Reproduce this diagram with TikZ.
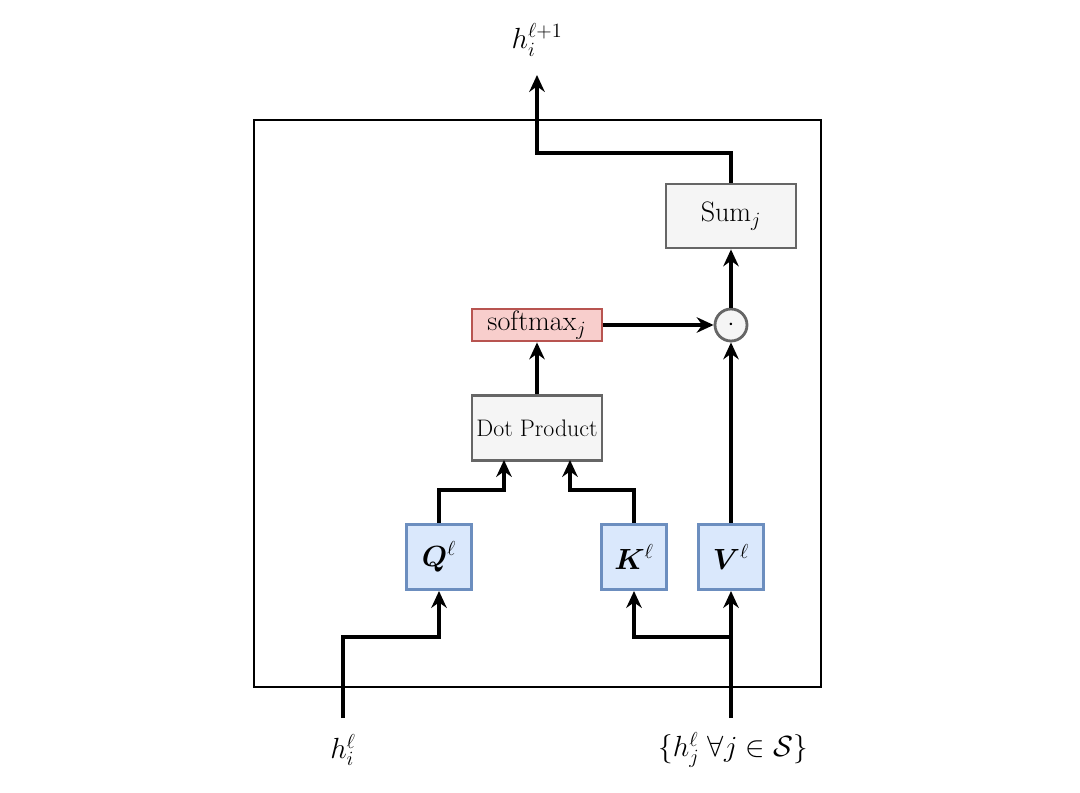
\documentclass[tikz,border=0pt]{standalone}
\usepackage{amsmath,amssymb,bm}
\usetikzlibrary{arrows.meta}
\definecolor{bf}{HTML}{DAE8FC}\definecolor{bd}{HTML}{6C8EBF}
\definecolor{rf}{HTML}{F8CECC}\definecolor{rd}{HTML}{B85450}
\definecolor{gf}{HTML}{F5F5F5}\definecolor{gd}{HTML}{666666}
\begin{document}
\begin{tikzpicture}[x=0.025cm,y=-0.025cm,
  every node/.style={font=\fontsize{17}{20}\selectfont},
  big/.style={font=\fontsize{20}{24}\selectfont},
  ln/.style={line width=2.4pt,-{Stealth[length=12pt,width=11pt]}},
  gbox/.style={draw=gd,fill=gf,line width=2pt,inner sep=0pt},
  rbox/.style={draw=rd,fill=rf,line width=2pt,inner sep=0pt},
  bbox/.style={draw=bd,fill=bf,line width=2pt,inner sep=0pt}]
\useasboundingbox (0,0) rectangle (1080,793);
\draw[line width=1.2pt] (254,120) rectangle (821,687);
\node[gbox,big,minimum width=3.25cm,minimum height=1.6cm] (sum) at (731,216) {Sum$_j$};
\node[draw=gd,fill=gf,line width=2pt,circle,minimum size=0.8cm,inner sep=0pt] (dot) at (731,325) {$\cdot$};
\node[rbox,big,minimum width=3.25cm,minimum height=0.8cm] (sm) at (537,325) {softmax$_j$};
\node[gbox,minimum width=3.25cm,minimum height=1.62cm] (dp) at (537,428) {Dot Product};
\node[bbox,big,minimum width=1.63cm,minimum height=1.63cm] (q) at (439,557) {$\bm{Q}^{\ell}$};
\node[bbox,big,minimum width=1.63cm,minimum height=1.63cm] (k) at (634,557) {$\bm{K}^{\ell}$};
\node[bbox,big,minimum width=1.63cm,minimum height=1.63cm] (v) at (731,557) {$\bm{V}^{\ell}$};
\node[big] (hi) at (343,750) {$h_i^{\ell}$};
\node[big] (hs) at (733,750) {$\{h_j^{\ell}\ \forall j\in\mathcal{S}\}$};
\node[big] (out) at (537,40) {$h_i^{\ell+1}$};
\coordinate (hib) at (343,718);
\coordinate (hsb) at (731,718);
\coordinate (outa) at (537,75);
\draw[ln] (hib) |- (439,637) -- (q.south);
\draw[ln] (hsb) -- (v.south);
\draw[ln] (731,637) -| (k.south);
\draw[ln] (q.north) |- (504,490) -- (504,460);
\draw[ln] (k.north) |- (570,490) -- (570,460);
\draw[ln] (dp.north) -- (sm.south);
\draw[ln] (sm.east) -- (dot.west);
\draw[ln] (v.north) -- (dot.south);
\draw[ln] (dot.north) -- (sum.south);
\draw[ln] (sum.north) |- (537,153) -- (outa);
\end{tikzpicture}
\end{document}
